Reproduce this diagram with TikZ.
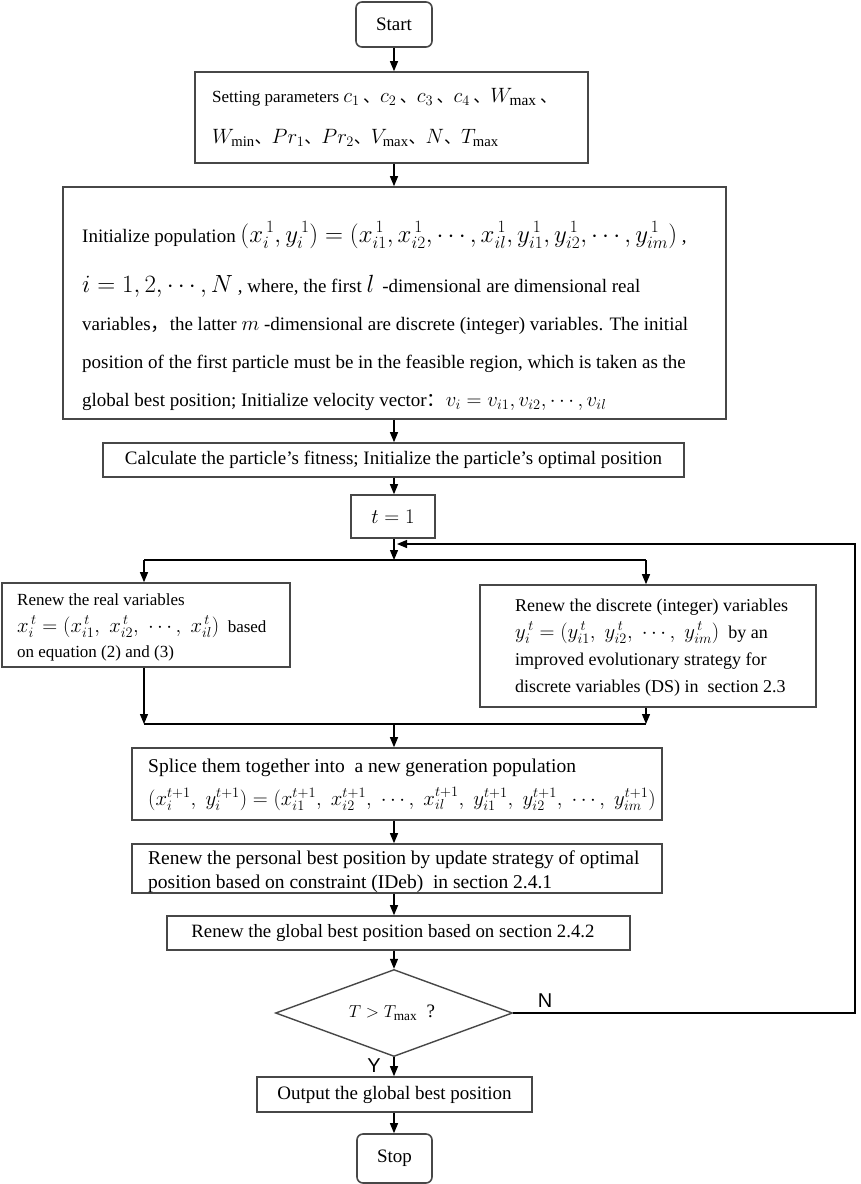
\documentclass[tikz,border=0pt]{standalone}
\usepackage{fontspec}
\setmainfont{Liberation Serif}
\newfontfamily\sansf{Liberation Sans}
\newfontfamily\cjk{Noto Sans CJK SC}
\usetikzlibrary{arrows.meta,shapes.geometric}
\newcommand\dn{{\cjk 、}}
\newcommand\fc{{\cjk ，}}
\newcommand\cn{{\cjk ：}}
\newcommand\M[2]{{\fontsize{#1}{#1}\selectfont$#2$}}
\newcommand\fs[1]{\fontsize{#1}{#1}\selectfont}
\begin{document}
\begin{tikzpicture}[x=1pt,y=-1pt,
  box/.style={draw=black!72, line width=1.6pt, rectangle, inner sep=0pt, font=\fs{19}},
  rbox/.style={box, rounded corners=6pt},
  txt/.style={inner sep=0pt, font=\fs{19}},
  arr/.style={draw=black, line width=1.2pt, -{Triangle[length=10pt,width=8pt]}},
  ln/.style={draw=black, line width=1.2pt},
  lab/.style={inner sep=0pt, font=\sansf\fs{20}}]
\useasboundingbox[fill=white] (0,0) rectangle (861,1184);
\coordinate (c0) at (394,0);

\node[rbox, minimum width=76pt, minimum height=45pt] (start) at (394,24.5) {Start};

\node[box, minimum width=393pt, minimum height=91pt] (setp) at (391.5,117.5) {};
\node[txt, anchor=base west, font=\fs{17}] (set1) at (212,102) {Setting parameters \M{22}{c_1\,}\dn\M{22}{c_2\,}\dn\M{22}{c_3\,}\dn\M{22}{c_4\,}\dn\M{22}{W_{\max}\,}\dn};
\node[txt, anchor=base west, font=\fs{17}] (set2) at (212,143) {\M{21}{W_{\min}}\dn\M{21}{Pr_1}\dn\M{21}{Pr_2}\dn\M{21}{V_{\max}}\dn\M{21}{N}\dn\M{21}{T_{\max}}};

\node[box, minimum width=663pt, minimum height=232pt] (init) at (394.5,303) {};
\node[txt, anchor=base west] (i1) at (82,242) {Initialize population \M{23}{(x_i^{\,1}, y_i^{\,1}) = (x_{i1}^{\,1}, x_{i2}^{\,1}, \cdots, x_{il}^{\,1}, y_{i1}^{\,1}, y_{i2}^{\,1}, \cdots, y_{im}^{\,1})} ,};
\node[txt, anchor=base west] (i2) at (82,292) {\M{24}{i = 1, 2, \cdots, N} , where, the first \M{24}{l}\, -dimensional are dimensional real};
\node[txt, anchor=base west] (i3) at (82,330) {variables\fc the latter \M{22}{m} -dimensional are discrete (integer) variables. The initial};
\node[txt, anchor=base west] (i4) at (82,368) {position of the first particle must be in the feasible region, which is taken as the};
\node[txt, anchor=base west] (i5) at (82,406) {global best position; Initialize velocity vector\cn \M{20}{v_i = v_{i1}, v_{i2}, \cdots, v_{il}}};

\node[box, minimum width=581pt, minimum height=34pt] (calc) at (393.5,460) {Calculate the particle’s fitness; Initialize the particle’s optimal position};

\node[box, minimum width=84pt, minimum height=43pt, font=\fs{21}] (tb) at (393,516.5) {$t = 1$};

\node[box, minimum width=288pt, minimum height=84pt] (left) at (146,625) {};
\node[txt, anchor=base west, font=\fs{17}] (l1) at (17,605) {Renew the real variables};
\node[txt, anchor=base west, font=\fs{17}] (l2) at (17,632) {\M{19.5}{x_i^{\,t} = (x_{i1}^{\,t},\; x_{i2}^{\,t},\; \cdots,\; x_{il}^{\,t})} \ based};
\node[txt, anchor=base west, font=\fs{17}] (l3) at (17,657) {on equation (2) and (3)};

\node[box, minimum width=336pt, minimum height=122pt] (right) at (648,646) {};
\node[txt, anchor=base west, font=\fs{18}] (r1) at (515,611) {Renew the discrete (integer) variables};
\node[txt, anchor=base west, font=\fs{18}] (r2) at (515,638) {\M{22.5}{y_i^{\,t} = (y_{i1}^{\,t},\; y_{i2}^{\,t},\; \cdots,\; y_{im}^{\,t})} \ by an};
\node[txt, anchor=base west, font=\fs{18}] (r3) at (515,665) {improved evolutionary strategy for};
\node[txt, anchor=base west, font=\fs{18}] (r4) at (515,692) {discrete variables (DS) in \ section 2.3};

\node[box, minimum width=530pt, minimum height=72pt] (splice) at (397,784) {};
\node[txt, anchor=base west, font=\fs{19.5}] (s1) at (148,772) {Splice them together into \ a new generation population};
\node[txt, anchor=base west] (s2) at (148,805) {\M{22.4}{(x_i^{t+1},\; y_i^{t+1}) = (x_{i1}^{t+1},\; x_{i2}^{t+1},\; \cdots,\; x_{il}^{t+1},\; y_{i1}^{t+1},\; y_{i2}^{t+1},\; \cdots,\; y_{im}^{t+1})}};

\node[box, minimum width=530pt, minimum height=49pt] (pers) at (397,868.5) {};
\node[txt, anchor=base west, font=\fs{19.5}] (p1) at (148,864) {Renew the personal best position by update strategy of optimal};
\node[txt, anchor=base west, font=\fs{19.5}] (p2) at (148,888) {position based on constraint (IDeb) \ in section 2.4.1};

\node[box, minimum width=463pt, minimum height=34pt] (glob) at (398.5,933) {};
\node[txt, font=\fs{18.8}] (g1) at (393,933) {Renew the global best position based on section 2.4.2};

\node[box, diamond, minimum width=237pt, minimum height=87pt, line width=1.4pt] (dia) at (394,1013) {};
\node[txt] (dt) at (392,1013) {$T > T_{\max}$ \ ?};

\node[box, minimum width=275pt, minimum height=35pt] (out) at (394.5,1094.5) {Output the global best position};
\node[rbox, minimum width=75pt, minimum height=49pt] (stop) at (394.5,1158.5) {Stop};

\node[lab] (nl) at (545,1001) {N};
\node[lab] (yl) at (374,1066) {Y};

% connectors
\draw[arr] (start.south -| c0) -- (setp.north -| c0);
\draw[arr] (setp.south -| c0) -- (init.north -| c0);
\draw[arr] (init.south -| c0) -- (calc.north -| c0);
\draw[arr] (calc.south -| c0) -- (tb.north -| c0);
\coordinate (sp) at (394,560);
\draw[arr] (tb.south -| c0) -- (sp);
\coordinate (spl) at (144,560);
\coordinate (spr) at (646,560);
\draw[ln] (spl) -- (spr);
\draw[arr] (spl) -- (spl |- left.north);
\draw[arr] (spr) -- (spr |- right.north);
\coordinate (ml) at (144,724);
\coordinate (mr) at (646,724);
\coordinate (mc) at (394,724);
\draw[arr] (left.south -| ml) -- (ml);
\draw[arr] (right.south -| mr) -- (mr);
\draw[ln] (ml) -- (mr);
\draw[arr] (mc) -- (splice.north -| mc);
\draw[arr] (splice.south -| c0) -- (pers.north -| c0);
\draw[arr] (pers.south -| c0) -- (glob.north -| c0);
\draw[arr] (glob.south -| c0) -- (dia.north);
\draw[arr] (dia.south) -- (out.north -| dia.south);
\draw[arr] (out.south -| c0) -- (stop.north -| c0);
\coordinate (rc) at (855,544);
\coordinate (fb) at (397,544);
\draw[arr] (dia.east) -- (dia.east -| rc) -- (rc) -- (fb);
\end{tikzpicture}
\end{document}
